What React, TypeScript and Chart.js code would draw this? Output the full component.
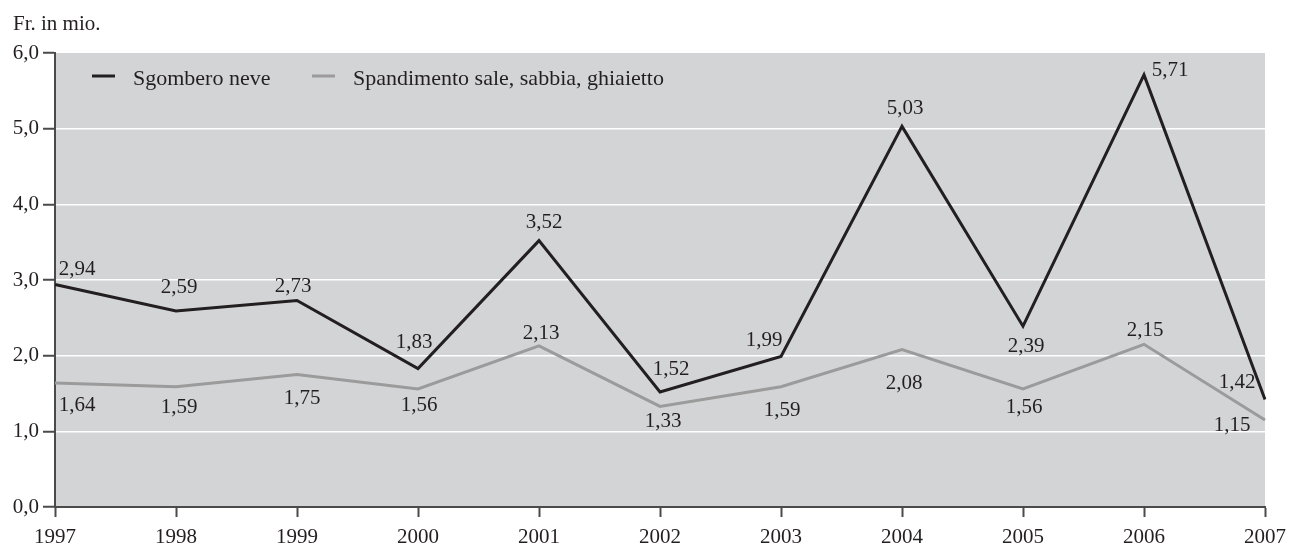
import React, { useEffect, useRef } from "react";
import { Chart, registerables } from "chart.js";

Chart.register(...registerables);

const years = ["1997", "1998", "1999", "2000", "2001", "2002", "2003", "2004", "2005", "2006", "2007"];
const sgomberoNeve = [2.94, 2.59, 2.73, 1.83, 3.52, 1.52, 1.99, 5.03, 2.39, 5.71, 1.42];
const spandimento = [1.64, 1.59, 1.75, 1.56, 2.13, 1.33, 1.59, 2.08, 1.56, 2.15, 1.15];
const seriesNames = ["Sgombero neve", "Spandimento sale, sabbia, ghiaietto"];
const unitLabel = "Fr. in mio.";

// label placement (pixel offsets of label centre from the point) — style only
const neveLabelOffsets: [number, number][] = [
  [22, -17], [3, -25], [-4, -15], [-4, -28], [5, -20], [11, -24],
  [-17, -17], [3, -19], [3, 19], [26, -6], [-28, -19],
];
const saleLabelOffsets: [number, number][] = [
  [22, 21], [3, 19], [5, 22], [1, 15], [2, -14], [3, 14],
  [1, 22], [2, 32], [1, 17], [1, -15], [-33, 4],
];

const FONT = '"Liberation Serif", "Times New Roman", serif';
const TEXT = "#231f20";
const AXIS = "#4a4a4a";
const BG = "#d3d4d6";
const COLORS = ["#231f20", "#9b9b9b"];

const fmt = (v: number, d: number) => v.toFixed(d).replace(".", ",");

const decorPlugin = {
  id: "decor",
  beforeDraw(chart: any) {
    const { ctx, chartArea } = chart;
    ctx.save();
    ctx.fillStyle = BG;
    ctx.fillRect(chartArea.left, chartArea.top, chartArea.right - chartArea.left, chartArea.bottom - chartArea.top);
    ctx.restore();
  },
  afterDraw(chart: any) {
    const { ctx, chartArea } = chart;
    ctx.save();
    // unit title
    ctx.fillStyle = TEXT;
    ctx.font = `21px ${FONT}`;
    ctx.textAlign = "left";
    ctx.textBaseline = "alphabetic";
    ctx.fillText(unitLabel, 13, 30);

    // legend
    const legX = [chartArea.left + 37, chartArea.left + 257];
    const ly = chartArea.top + 23;
    ctx.font = `22px ${FONT}`;
    chart.data.datasets.forEach((ds: any, i: number) => {
      ctx.strokeStyle = ds.borderColor;
      ctx.lineWidth = 3;
      ctx.beginPath();
      ctx.moveTo(legX[i], ly);
      ctx.lineTo(legX[i] + 23, ly);
      ctx.stroke();
      ctx.fillStyle = TEXT;
      ctx.fillText(ds.label, legX[i] + 41, ly + 9);
    });

    // data labels
    ctx.font = `21px ${FONT}`;
    ctx.textAlign = "center";
    ctx.fillStyle = TEXT;
    const offsets = [neveLabelOffsets, saleLabelOffsets];
    chart.data.datasets.forEach((ds: any, i: number) => {
      const meta = chart.getDatasetMeta(i);
      meta.data.forEach((pt: any, j: number) => {
        const [dx, dy] = offsets[i][j];
        ctx.fillText(fmt(ds.data[j], 2), pt.x + dx, pt.y + dy + 7);
      });
    });
    ctx.restore();
  },
};

export default function App() {
  const ref = useRef<HTMLCanvasElement | null>(null);
  useEffect(() => {
    if (!ref.current) return;
    const chart = new Chart(ref.current, {
      type: "line",
      data: {
        labels: years,
        datasets: [
          {
            label: seriesNames[0],
            data: sgomberoNeve,
            borderColor: COLORS[0],
            backgroundColor: COLORS[0],
            borderWidth: 3,
            pointRadius: 0,
            tension: 0,
            borderJoinStyle: "miter",
          },
          {
            label: seriesNames[1],
            data: spandimento,
            borderColor: COLORS[1],
            backgroundColor: COLORS[1],
            borderWidth: 3,
            pointRadius: 0,
            tension: 0,
            borderJoinStyle: "miter",
          },
        ],
      },
      options: {
        responsive: false,
        animation: false,
        layout: { padding: { left: 0, right: 24, top: 53, bottom: 0 } },
        plugins: {
          legend: { display: false },
          tooltip: { enabled: false },
          title: { display: false },
        },
        scales: {
          x: {
            type: "category",
            offset: false,
            grid: {
              display: true,
              drawOnChartArea: false,
              drawTicks: true,
              tickLength: 10,
              tickColor: AXIS,
              tickWidth: 2,
            },
            border: { display: true, color: AXIS, width: 2 },
            ticks: {
              color: TEXT,
              font: { family: FONT, size: 21 },
              padding: 8,
              maxRotation: 0,
              autoSkip: false,
            },
            afterFit: (s: any) => {
              s.height = 40;
              s.paddingLeft = 0;
              s.paddingRight = 0;
            },
          },
          y: {
            min: 0,
            max: 6,
            grid: {
              color: (c: any) => (c.tick && (c.tick.value === 0 || c.tick.value === 6) ? "rgba(0,0,0,0)" : "#ffffff"),
              lineWidth: 1.5,
              drawTicks: true,
              tickLength: 12,
              tickColor: AXIS,
              tickWidth: 2,
            },
            border: { display: true, color: AXIS, width: 2 },
            ticks: {
              stepSize: 1,
              color: TEXT,
              font: { family: FONT, size: 21 },
              padding: 4,
              callback: (v: any) => fmt(Number(v), 1),
            },
            afterFit: (s: any) => {
              s.width = 55;
              s.paddingTop = 0;
              s.paddingBottom = 0;
            },
          },
        },
      },
      plugins: [decorPlugin],
    } as any);
    return () => chart.destroy();
  }, []);
  return (
    <div style={{ position: "fixed", left: 0, top: 0, width: 1289, height: 547, background: "#fff" }}>
      <canvas ref={ref} width={1289} height={547} style={{ display: "block" }} />
    </div>
  );
}
